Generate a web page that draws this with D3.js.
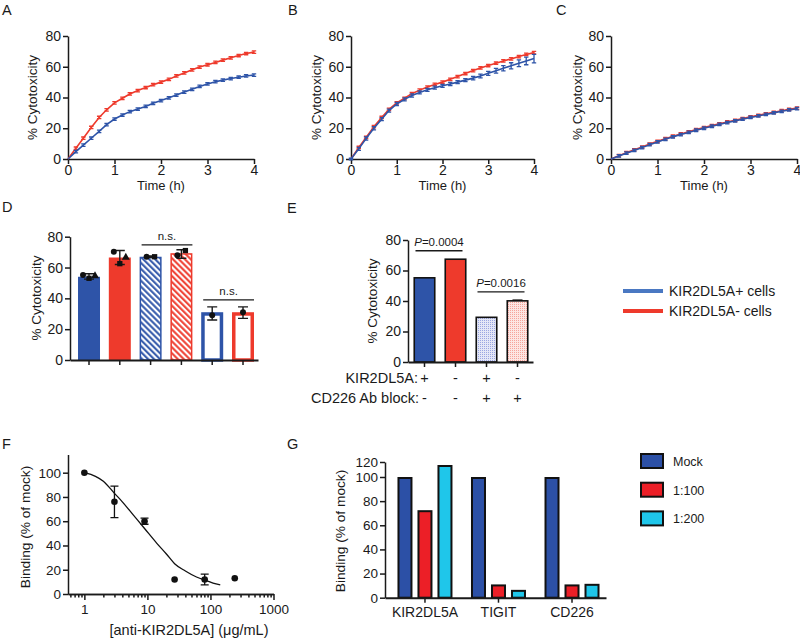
<!DOCTYPE html>
<html><head><meta charset="utf-8">
<script src="https://cdn.jsdelivr.net/npm/d3@7"></script>
<style>body{margin:0;background:#fff}svg{display:block}</style>
</head><body><script>
// ---------------- DATA ----------------
const timeH = [0,0.17,0.33,0.5,0.67,0.83,1,1.17,1.33,1.5,1.67,1.83,2,2.17,2.33,2.5,2.67,2.83,3,3.17,3.33,3.5,3.67,3.83,4];
const timeTicks = [0,1,2,3,4];
const cytoTicks = [0,20,40,60,80];
// Panel A
const aRed  = [0,7,13.5,20.5,27,32,36.5,39.5,42.3,44.5,46.5,48.3,50,51.8,54,56,58,59.8,61.3,62.8,64.3,65.8,67.3,68.6,69.5];
const aBlue = [0,4.8,9,13.5,18,22.3,26,28.6,30.8,32.5,34.2,36.2,38,39.8,41.6,43.5,45.3,47.2,48.8,50.3,51.3,52.3,53.2,54,54.6];
const aErr  = [0,0.8,0.8,0.8,0.8,0.8,0.8,0.8,0.8,0.8,0.8,0.8,0.8,0.8,0.8,0.8,0.8,0.8,0.8,0.8,0.8,0.8,0.8,0.8,0.8];
// Panel B
const bRed  = [0,7.5,14,21,27,32.3,36.5,39.5,42.5,44.8,46.8,48.5,50,51.8,53.6,55.6,57.5,59.2,60.8,62.3,63.8,65.1,66.6,68,69.2];
const bBlue = [0,6.6,13.3,20,25.9,31.5,35.8,38.8,41.3,43.3,45,46.4,47.6,48.8,50,51.3,52.6,54,55.7,57.4,59,60.6,62.3,63.8,65.3];
const bBlueErr = [0.5,1,1,1,1,1,1,1,1,1,1,1,1,1,1,1,1.2,1.2,1.3,1.5,1.7,2,2.2,2.5,2.8];
// Panel C
const cRed  = [0,2.2,4.1,6,7.8,9.7,11.5,13.2,14.8,16.3,17.7,19.1,20.4,21.7,22.9,24.1,25.2,26.3,27.4,28.4,29.4,30.4,31.4,32.3,33.1];
const cBlue = [0,2,3.8,5.6,7.4,9.3,11.1,12.8,14.4,15.9,17.3,18.7,20,21.3,22.5,23.7,24.8,25.9,27,28,29,30,31,31.9,32.7];
// Panel D
const dGroups  = ["d1","d2","d3","d4","d5","d6"];
const dValues  = [54,66.5,67,69.3,31,31];
const dErrLow  = [52.5,62,66.5,66,26,27];
const dErrHigh = [56,71,67.5,71.5,34.5,34.5];
const dPoints  = [[55.2,53,54.5],[70.3,62.5,66.5],[67,67],[68,71],[29],[31]];
const dSig = [{from:2,to:3,y:74.7,label:"n.s."},{from:4,to:5,y:39,label:"n.s."}];
// Panel E
const eGroups = ["e1","e2","e3","e4"];
const eValues = [55.2,67.4,29.3,40.1];
const eErr    = [0,0,0,0.5];
const eKir    = ["+","-","+","-"];
const eBlock  = ["-","-","+","+"];
const eSig = [{from:0,to:1,y:73,label:"=0.0004"},{from:2,to:3,y:46,label:"=0.0016"}];
// Legend
const cellLegend = ["KIR2DL5A+ cells","KIR2DL5A- cells"];
// Panel F
const fConc = [1,3,9,27,81,243];
const fBind = [100,76,60,12,12,13];
const fErr  = [0,13,2.5,0,4.4,0];
const fFitX = [1,1.5,2,3,4,6,9,14,20,27,40,60,80,110,143];
const fFitY = [100,97,93,83,76,65,54,42,33,25,19,14,11.5,9,7.5];
const fMajor = [1,10,100,1000];
const fMinor = [0.6,0.7,0.8,0.9,2,3,4,5,6,7,8,9,20,30,40,50,60,70,80,90,200,300,400,500,600,700,800,900];
const fYTicks = [0,20,40,60,80,100];
// Panel G
const gCats = ["KIR2DL5A","TIGIT","CD226"];
const gSeries = ["Mock","1:100","1:200"];
const gMock = [100,100,100];
const g100  = [72.5,11,11];
const g200  = [116,6.5,11.5];
const gYTicks = [0,20,40,60,80,100,120];

// ---------------- STYLE ----------------
const FONT = '"Liberation Sans", Arial, Helvetica, sans-serif';
const INK = '#1a1a1a';
const BLUE = '#2e54a8', RED = '#ee3a2c', LBLUE = '#4a78c2';
const GBLUE = '#2c50a6', GRED = '#ec1f27', CYAN = '#1fc6ea';

const svg = d3.select('body').append('svg').attr('width',800).attr('height',638)
  .style('font-family',FONT);

const defs = svg.append('defs');
function hatch(id,color){
  const p = defs.append('pattern').attr('id',id).attr('patternUnits','userSpaceOnUse')
    .attr('width',4.2).attr('height',4.2).attr('patternTransform','rotate(-45)');
  p.append('rect').attr('width',4.2).attr('height',4.2).attr('fill','#fff');
  p.append('line').attr('x1',2).attr('y1',0).attr('x2',2).attr('y2',4.2).attr('stroke',color).attr('stroke-width',2);
}
function dots(id,bg,color){
  const p = defs.append('pattern').attr('id',id).attr('patternUnits','userSpaceOnUse')
    .attr('width',2).attr('height',2);
  p.append('rect').attr('width',2).attr('height',2).attr('fill',bg);
  p.append('rect').attr('width',1).attr('height',1).attr('fill',color);
}
hatch('hatchBlue',BLUE); hatch('hatchRed',RED);
dots('dotBlue','#e4e7f7','#9aa6e2'); dots('dotRed','#fde6e3','#f6a49b');

function txt(x,y,s,size,anchor){
  return svg.append('text').attr('x',x).attr('y',y).attr('font-size',size||14)
    .attr('fill',INK).attr('text-anchor',anchor||'start').text(s);
}
function ylab(cx,cy,s,size){
  svg.append('text').attr('transform',`translate(${cx},${cy}) rotate(-90)`)
    .attr('text-anchor','middle').attr('dy','0.35em').attr('font-size',size||13.5)
    .attr('fill',INK).text(s);
}
function styleAxis(sel,size){
  sel.attr('font-family',FONT).attr('font-size',size||14);
  sel.selectAll('path,line').attr('stroke',INK).attr('stroke-width',1.5);
  sel.selectAll('text').attr('fill',INK);
}
function letter(x,y,s){ txt(x,y,s,14.5); }

// ---------------- TIME PANELS (A,B,C) ----------------
function timePanel(x0,x1,series,labX,letterX,L){
  const x = d3.scaleLinear().domain([0,4]).range([x0,x1]);
  const y = d3.scaleLinear().domain([0,80]).range([159,36]);
  svg.append('g').attr('transform','translate(0,159)')
    .call(d3.axisBottom(x).tickValues(timeTicks).tickFormat(d3.format('d')).tickSize(5).tickSizeOuter(0).tickPadding(1.5))
    .call(styleAxis,14);
  svg.append('g').attr('transform',`translate(${x0},0)`)
    .call(d3.axisLeft(y).tickValues(cytoTicks).tickSize(5).tickSizeOuter(0).tickPadding(2))
    .call(styleAxis,14);
  const line = d3.line().x((d,i)=>x(timeH[i])).y(d=>y(d));
  series.forEach(s=>{
    const g = svg.append('g');
    g.append('path').datum(s.v).attr('d',line).attr('fill','none').attr('stroke',s.c).attr('stroke-width',1.6);
    g.selectAll('path.err').data(s.v).enter().append('path').attr('class','err')
      .attr('d',(d,i)=>{
        const e = s.e[i]; if(!e) return null;
        const px = x(timeH[i]), y1 = y(d+e), y2 = y(d-e);
        return `M${px},${y1}V${y2}M${px-2.2},${y1}H${px+2.2}M${px-2.2},${y2}H${px+2.2}`;
      })
      .attr('fill','none').attr('stroke',s.c).attr('stroke-width',1.3);
  });
  txt((x0+x1)/2,190,'Time (h)',13,'middle');
  ylab(labX,97.5,'% Cytotoxicity',13.5);
  letter(letterX,15,L);
}
timePanel(68,254,[{v:aRed,e:aErr,c:RED},{v:aBlue,e:aErr,c:BLUE}],32,2,'A');
timePanel(351,534,[{v:bRed,e:aErr,c:RED},{v:bBlue,e:bBlueErr,c:BLUE}],316,288,'B');
timePanel(611,797,[{v:cRed,e:aErr,c:RED},{v:cBlue,e:aErr,c:BLUE}],577.5,556,'C');

// ---------------- PANEL D ----------------
(function(){
  const x = d3.scaleBand().domain(dGroups).range([70,258]).paddingInner(0.286).paddingOuter(0.195).align(0.667);
  const y = d3.scaleLinear().domain([0,80]).range([360,236.7]);
  const bw = x.bandwidth();
  const colors = [BLUE,RED,BLUE,RED,BLUE,RED];
  const kind = ['solid','solid','hatch','hatch','open','open'];
  const g = svg.append('g');
  dValues.forEach((v,i)=>{
    const k = kind[i], c = colors[i], x0 = x(dGroups[i]);
    if(k==='solid'){
      g.append('rect').attr('x',x0).attr('y',y(v)).attr('width',bw).attr('height',y(0)-y(v)).attr('fill',c);
    } else if(k==='hatch'){
      g.append('rect').attr('x',x0+0.75).attr('y',y(v)+0.75).attr('width',bw-1.5).attr('height',y(0)-y(v)-0.75)
        .attr('fill',c===BLUE?'url(#hatchBlue)':'url(#hatchRed)').attr('stroke',c).attr('stroke-width',1.5);
    } else {
      g.append('rect').attr('x',x0+1.75).attr('y',y(v)+1.75).attr('width',bw-3.5).attr('height',y(0)-y(v)-1.75)
        .attr('fill','#fff').attr('stroke',c).attr('stroke-width',3.5);
    }
  });
  dValues.forEach((v,i)=>{
    const cx = x(dGroups[i])+bw/2, lo=y(dErrLow[i]), hi=y(dErrHigh[i]);
    g.append('path').attr('d',`M${cx},${hi}V${lo}M${cx-5},${hi}H${cx+5}M${cx-5},${lo}H${cx+5}`)
      .attr('stroke',INK).attr('stroke-width',1.4).attr('fill','none');
  });
  const shapes = [d3.symbolCircle,d3.symbolSquare,d3.symbolTriangle];
  dPoints.forEach((pts,i)=>{
    const cx = x(dGroups[i])+bw/2;
    const n = pts.length;
    pts.forEach((p,j)=>{
      const off = n===1?0:(n===2?(j===0?-4:4):(j-1)*6);
      g.append('path').attr('d',d3.symbol().type(shapes[j%3]).size(28)())
        .attr('transform',`translate(${cx+off},${y(p)})`).attr('fill','#111');
    });
  });
  dSig.forEach(s=>{
    const xa = x(dGroups[s.from])+2, xb = x(dGroups[s.to])+bw;
    g.append('line').attr('x1',xa).attr('x2',xb).attr('y1',y(s.y)).attr('y2',y(s.y)).attr('stroke',INK).attr('stroke-width',1.4);
    txt((xa+xb)/2,y(s.y)-5,s.label,11.5,'middle');
  });
  svg.append('g').attr('transform','translate(0,360)')
    .call(d3.axisBottom(x).tickFormat('').tickSize(5).tickSizeOuter(0)).call(styleAxis,14)
    .select('.domain').attr('stroke-width',2);
  svg.append('g').attr('transform','translate(70,0)')
    .call(d3.axisLeft(y).tickValues(cytoTicks).tickSize(5).tickSizeOuter(0).tickPadding(2)).call(styleAxis,14);
  ylab(36,298,'% Cytotoxicity',13.5);
  letter(2,212,'D');
})();

// ---------------- PANEL E ----------------
(function(){
  const x = d3.scaleBand().domain(eGroups).range([408,533]).paddingInner(0.29).paddingOuter(0.161).align(0.55);
  const y = d3.scaleLinear().domain([0,80]).range([362,240]);
  const bw = x.bandwidth();
  const fills = [BLUE,RED,'url(#dotBlue)','url(#dotRed)'];
  const g = svg.append('g');
  eValues.forEach((v,i)=>{
    g.append('rect').attr('x',x(eGroups[i])+0.75).attr('y',y(v)).attr('width',bw-1.5).attr('height',y(0)-y(v))
      .attr('fill',fills[i]).attr('stroke','#111').attr('stroke-width',1.6);
    if(eErr[i]){
      const cx = x(eGroups[i])+bw/2;
      g.append('path').attr('d',`M${cx-5},${y(v+eErr[i])}H${cx+5}`).attr('stroke','#111').attr('stroke-width',1.4);
    }
  });
  eSig.forEach(s=>{
    const xa = x(eGroups[s.from])+2, xb = x(eGroups[s.to])+bw-4;
    g.append('line').attr('x1',xa).attr('x2',xb).attr('y1',y(s.y)).attr('y2',y(s.y)).attr('stroke',INK).attr('stroke-width',1.4);
    const t = svg.append('text').attr('x',(xa+xb)/2).attr('y',y(s.y)-4.5).attr('text-anchor','middle')
      .attr('font-size',11.5).attr('fill',INK);
    t.append('tspan').attr('font-style','italic').text('P');
    t.append('tspan').text(s.label);
  });
  svg.append('g').attr('transform','translate(0,362)')
    .call(d3.axisBottom(x).tickFormat('').tickSize(5).tickSizeOuter(0)).call(styleAxis,14)
    .select('.domain').attr('stroke-width',2);
  svg.append('g').attr('transform','translate(408,0)')
    .call(d3.axisLeft(y).tickValues(cytoTicks).tickSize(5).tickSizeOuter(0).tickPadding(2)).call(styleAxis,14);
  ylab(372,301,'% Cytotoxicity',13.5);
  txt(418,383,'KIR2DL5A:',14.5,'end');
  txt(419,403,'CD226 Ab block:',14.5,'end');
  eGroups.forEach((k,i)=>{
    const cx = x(k)+bw/2;
    txt(cx,383,eKir[i],14.5,'middle');
    txt(cx,403,eBlock[i],14.5,'middle');
  });
  letter(287,213,'E');
})();

// ---------------- CELL LEGEND ----------------
[LBLUE,RED].forEach((c,i)=>{
  svg.append('line').attr('x1',623).attr('x2',663).attr('y1',291+i*20).attr('y2',291+i*20)
    .attr('stroke',c).attr('stroke-width',4);
  txt(669,296+i*20,cellLegend[i],14);
});

// ---------------- PANEL F ----------------
(function(){
  const x = d3.scaleLog().domain([0.55,1000]).range([68,273.5]);
  const y = d3.scaleLinear().domain([0,115]).range([594,454.5]);
  svg.append('g').attr('transform','translate(0,594)')
    .call(d3.axisBottom(x).tickValues(fMinor).tickFormat('').tickSize(3.5).tickSizeOuter(0)).call(styleAxis,13.5);
  svg.append('g').attr('transform','translate(0,594)')
    .call(d3.axisBottom(x).tickValues(fMajor).tickFormat(d3.format('d')).tickSize(6).tickSizeOuter(0).tickPadding(4)).call(styleAxis,13.5);
  svg.append('g').attr('transform','translate(68,0)')
    .call(d3.axisLeft(y).tickValues(fYTicks).tickSize(5).tickSizeOuter(0).tickPadding(2)).call(styleAxis,13.5);
  const line = d3.line().x((d,i)=>x(fFitX[i])).y(d=>y(d)).curve(d3.curveMonotoneX);
  svg.append('path').datum(fFitY).attr('d',line).attr('fill','none').attr('stroke','#111').attr('stroke-width',1.3);
  fBind.forEach((v,i)=>{
    const cx = x(fConc[i]);
    if(fErr[i]){
      const hi=y(v+fErr[i]), lo=y(v-fErr[i]);
      svg.append('path').attr('d',`M${cx},${hi}V${lo}M${cx-4},${hi}H${cx+4}M${cx-4},${lo}H${cx+4}`)
        .attr('stroke','#111').attr('stroke-width',1.3).attr('fill','none');
    }
    svg.append('circle').attr('cx',cx).attr('cy',y(v)).attr('r',3.3).attr('fill','#111');
  });
  txt(189,635,'[anti-KIR2DL5A] (\u03BCg/mL)',14.5,'middle');
  ylab(25,527,'Binding (% of mock)',13.7);
  letter(2,449,'F');
})();

// ---------------- PANEL G ----------------
(function(){
  const x = d3.scaleBand().domain(gCats).range([385,606]).paddingInner(0.184).paddingOuter(0.095).align(0.714);
  const xi = d3.scaleBand().domain(gSeries).range([0,x.bandwidth()]).paddingInner(0.25).paddingOuter(0.125);
  const y = d3.scaleLinear().domain([0,100,120]).range([597.7,477,462]);
  const colors = [GBLUE,GRED,CYAN];
  const vals = [gMock,g100,g200];
  gSeries.forEach((s,si)=>{
    gCats.forEach((c,ci)=>{
      const v = vals[si][ci];
      svg.append('rect').attr('x',x(c)+xi(s)+1).attr('y',y(v)+1).attr('width',xi.bandwidth()-2)
        .attr('height',y(0)-y(v)-1).attr('fill',colors[si]).attr('stroke','#111').attr('stroke-width',2);
    });
  });
  svg.append('g').attr('transform','translate(0,597.7)')
    .call(d3.axisBottom(x).tickSize(5).tickSizeOuter(0).tickPadding(4)).call(styleAxis,14)
    .select('.domain').attr('stroke-width',2);
  svg.append('g').attr('transform','translate(385,0)')
    .call(d3.axisLeft(y).tickValues(gYTicks).tickSize(5).tickSizeOuter(0).tickPadding(2)).call(styleAxis,13.5);
  ylab(340,531,'Binding (% of mock)',13.7);
  gSeries.forEach((s,i)=>{
    const yy = 454+i*28.7;
    svg.append('rect').attr('x',641).attr('y',yy).attr('width',22).attr('height',14)
      .attr('fill',colors[i]).attr('stroke','#111').attr('stroke-width',2);
    txt(673,yy+12,s,12.5);
  });
  letter(287,449,'G');
})();
</script></body></html>
